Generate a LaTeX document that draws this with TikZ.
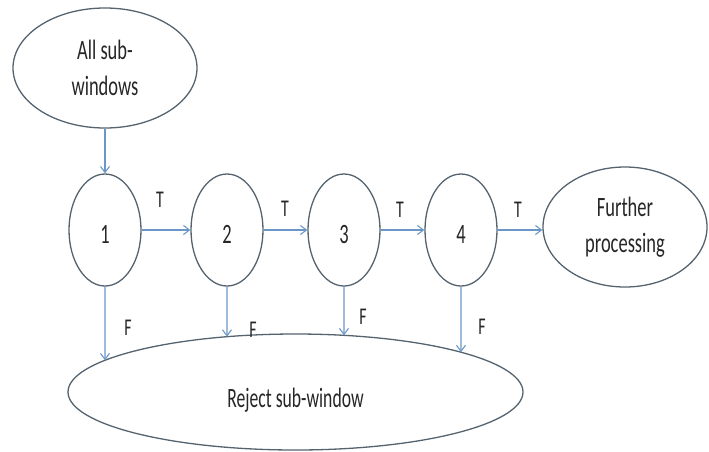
\documentclass[tikz,border=0pt]{standalone}
\usepackage{fontspec}
\setmainfont{Carlito}[FakeStretch=0.66]
\newfontfamily\narrowfont{Carlito}[FakeStretch=0.63]
\usetikzlibrary{shapes.geometric,arrows.meta,intersections}
\definecolor{edgec}{HTML}{55636F}
\definecolor{arrc}{HTML}{6A97C8}
\definecolor{txtc}{HTML}{262626}
\begin{document}
\begin{tikzpicture}[x=1pt,y=-1pt,
  shp/.style={ellipse, draw=edgec, line width=1.3pt, inner sep=0pt, text=txtc,
    font=\fontsize{28}{36}\selectfont, align=center},
  circ/.style={shp, minimum width=72pt, minimum height=112pt, text height=26pt, text depth=0pt},
  arr/.style={draw=arrc, line width=1.1pt, -{Straight Barb[length=6pt,width=9pt]}},
  lbl/.style={text=txtc, font=\fontsize{24}{28}\selectfont, inner sep=0pt}]
\useasboundingbox (0,0) rectangle (709,451);
\node[shp, minimum width=184pt, minimum height=120pt] (all) at (105,68) {All sub-\\windows};
\node[circ] (c1) at (105,230) {1};
\node[circ] (c2) at (227,230) {2};
\node[circ] (c3) at (344,230) {3};
\node[circ] (c4) at (461,230) {4};
\node[shp, minimum width=164pt, minimum height=120pt] (fp) at (625,227) {Further\\processing};
\path[name path=rejp] (295.5,392) ellipse [x radius=227.5, y radius=58];
\node[shp, minimum width=455pt, minimum height=116pt, font=\fontsize{28}{36}\narrowfont,
  text height=36pt, text depth=6pt] (rej) at (295.5,392) {Reject sub-window};
\draw[arr] (all.south) -- (c1.north);
\draw[arr] (c1.east) -- (c2.west);
\draw[arr] (c2.east) -- (c3.west);
\draw[arr] (c3.east) -- (c4.west);
\draw[arr] (c4.east) -- (c4.east -| fp.west);
\path[name path=va] (c1.south) -- ++(0,150);
\path[name path=vb] (c2.south) -- ++(0,150);
\path[name path=vc] (c3.south) -- ++(0,150);
\path[name path=vd] (c4.south) -- ++(0,150);
\path[name intersections={of=va and rejp, sort by=va, by={fa}}];
\path[name intersections={of=vb and rejp, sort by=vb, by={fb}}];
\path[name intersections={of=vc and rejp, sort by=vc, by={fc}}];
\path[name intersections={of=vd and rejp, sort by=vd, by={fd}}];
\draw[arr] (c1.south) -- (fa);
\draw[arr] (c2.south) -- (fb);
\draw[arr] (c3.south) -- (fc);
\draw[arr] (c4.south) -- (fd);
\node[lbl] (t1) at (160,200) {T};
\node[lbl] (t2) at (285,209) {T};
\node[lbl] (t3) at (400,210) {T};
\node[lbl] (t4) at (518,210) {T};
\node[lbl] (l1) at (128,328) {F};
\node[lbl] (l2) at (253,330) {F};
\node[lbl] (l3) at (363,317) {F};
\node[lbl] (l4) at (482,327) {F};
\end{tikzpicture}
\end{document}
